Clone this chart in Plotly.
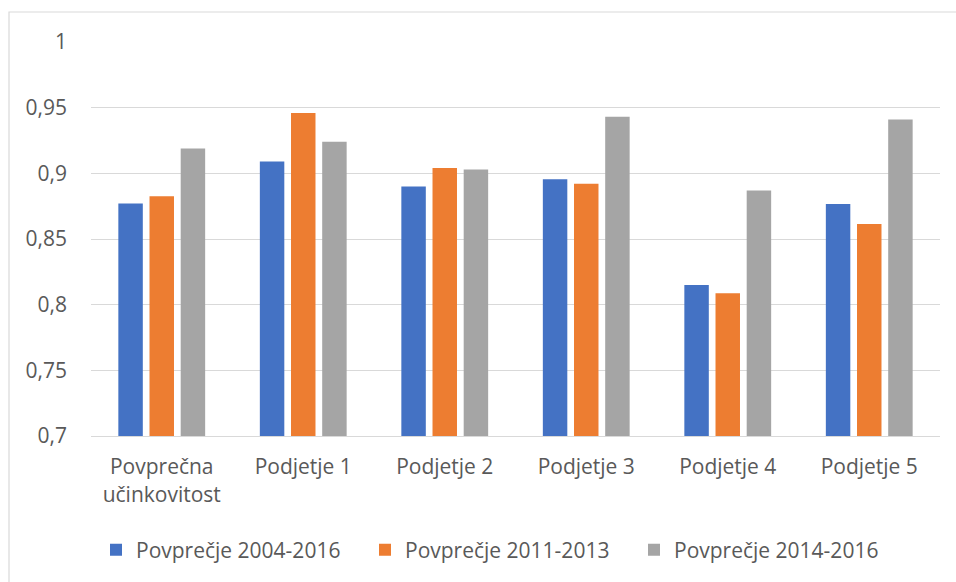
import plotly.graph_objects as go

categories = ["Povprečna<br>učinkovitost", "Podjetje 1", "Podjetje 2", "Podjetje 3", "Podjetje 4", "Podjetje 5"]
avg_2004_2016 = [0.877, 0.909, 0.890, 0.8955, 0.815, 0.8767]
avg_2011_2013 = [0.8825, 0.946, 0.904, 0.892, 0.8086, 0.8614]
avg_2014_2016 = [0.919, 0.924, 0.903, 0.943, 0.887, 0.941]
series_names = ["Povprečje 2004-2016", "Povprečje 2011-2013", "Povprečje 2014-2016"]
colors = ["#4472C4", "#ED7D31", "#A5A5A5"]
y_ticks = [0.7, 0.75, 0.8, 0.85, 0.9, 0.95, 1.0]
y_tick_labels = ["0,7", "0,75", "0,8", "0,85", "0,9", "0,95", "1"]

FONT = "Open Sans"
TXT = "#595959"

fig = go.Figure()
for name, vals, col in zip(series_names, [avg_2004_2016, avg_2011_2013, avg_2014_2016], colors):
    fig.add_trace(go.Bar(x=categories, y=vals, name=name, marker_color=col,
                         marker_line_width=0))

W, H = 956, 582
L, R, T, B = 91, 16, 42, 146
pw, ph = W - L - R, H - T - B

fig.update_layout(
    width=W, height=H,
    margin=dict(l=L, r=R, t=T, b=B),
    paper_bgcolor="white", plot_bgcolor="white",
    barmode="group", bargap=0.339, bargroupgap=0.215,
    font=dict(family=FONT, size=21, color=TXT),
    showlegend=True,
    legend=dict(orientation="h", x=(96 - L) / pw, xanchor="left",
                y=(436 - 550) / ph, yanchor="middle",
                font=dict(family=FONT, size=21, color=TXT),
                entrywidth=224, itemwidth=30, traceorder="normal"),
    xaxis=dict(showgrid=False, showline=True, linecolor="#d9d9d9", linewidth=1,
               ticks="", tickfont=dict(family=FONT, size=21, color=TXT),
               ticklabelstandoff=12),
    yaxis=dict(range=[0.7, 1.0], tickvals=y_ticks, ticktext=y_tick_labels,
               showgrid=True, gridcolor="#d9d9d9", gridwidth=1,
               zeroline=False, showline=False, ticks="",
               tickfont=dict(family=FONT, size=21, color=TXT),
               ticklabelstandoff=23),
    shapes=[dict(type="rect", xref="paper", yref="paper",
                 x0=(9 - L) / pw, x1=(970 - L) / pw,
                 y0=(436 - 600) / ph, y1=(436 - 12) / ph,
                 line=dict(color="#d9d9d9", width=1.2), fillcolor="rgba(0,0,0,0)",
                 layer="below")],
)

fig.write_html("out.html")
